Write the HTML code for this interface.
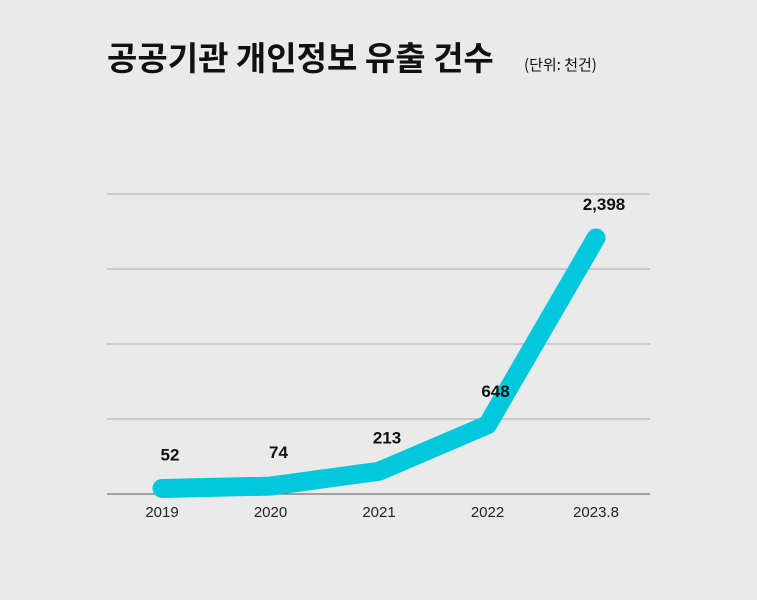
<!DOCTYPE html>
<html><head><meta charset="utf-8"><style>
body{margin:0;background:#eaeaea;width:757px;height:595px;overflow:hidden;font-family:"Liberation Sans","Noto Sans CJK KR",sans-serif}
</style></head><body>
<svg width="757" height="595" xmlns="http://www.w3.org/2000/svg">
<rect width="757" height="595" fill="#eaeaea"/>
<text x="107" y="70" font-size="33" font-weight="bold" fill="#111" font-family="Noto Sans CJK KR, sans-serif">공공기관 개인정보 유출 건수</text>
<text x="524" y="70" font-size="15" fill="#111" font-family="Noto Sans CJK KR, sans-serif">(단위: 천건)</text>
<g id="grid"></g><g id="xaxis"></g><g id="series"></g><g id="labels"></g>
</svg>
<script>
const categories=["2019","2020","2021","2022","2023.8"];
const values=[52,74,213,648,2398];
const valueLabels=["52","74","213","648","2,398"];
const gridTicks=[0,1,2,3,4];
const NS="http://www.w3.org/2000/svg";
const x0=162,step=108.5,yBase=494,gridStep=75,yMax=2810;
const xs=i=>x0+i*step;
const ys=v=>yBase-v/yMax*300;
function mk(t,a,p){const e=document.createElementNS(NS,t);for(const k in a)e.setAttribute(k,a[k]);p.appendChild(e);return e;}
const g=document.getElementById('grid');
gridTicks.forEach(t=>{const y=yBase-t*gridStep;
const l=mk('line',{x1:107,x2:650,y1:y,y2:y,stroke:t==0?'#555':'#aaa','stroke-width':1},g);

});
const xa=document.getElementById('xaxis');
categories.forEach((c,i)=>{const t=mk('text',{x:xs(i),y:517,'text-anchor':'middle','font-size':15,fill:'#222'},xa);t.textContent=c;

});
const pts=values.map((v,i)=>xs(i)+','+ys(v)).join(' ');
const pl=mk('polyline',{points:pts,fill:'none',stroke:'#00c8dc','stroke-width':19,'stroke-linecap':'round','stroke-linejoin':'round'},document.getElementById('series'));


const lg=document.getElementById('labels');
values.forEach((v,i)=>{const t=mk('text',{x:xs(i)+8,y:ys(v)-28,'text-anchor':'middle','font-size':17,'font-weight':'bold',fill:'#111'},lg);t.textContent=valueLabels[i];

});
</script>
</body></html>
